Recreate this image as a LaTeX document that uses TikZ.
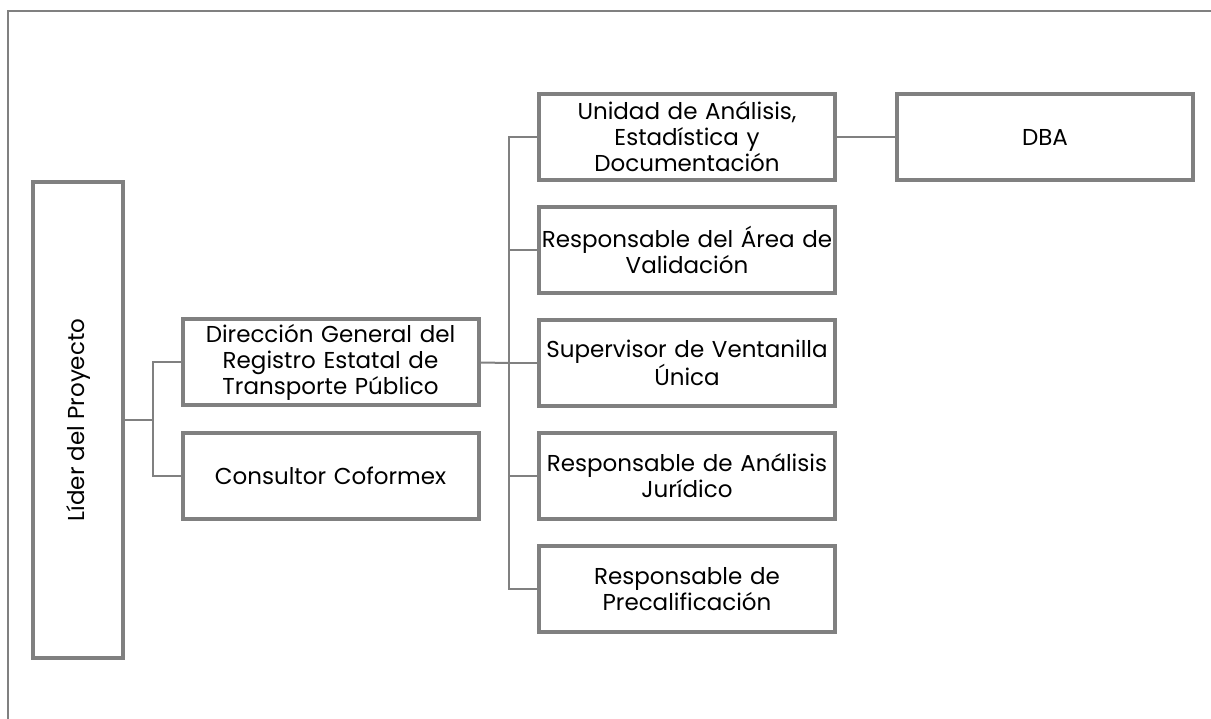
\documentclass[tikz,border=0pt]{standalone}
\usepackage{fontspec}
\setmainfont{Poppins}
\usetikzlibrary{positioning}
\definecolor{linegray}{RGB}{128,128,128}
\tikzset{
  unitbox/.style={draw=linegray, line width=4pt, inner sep=0pt, fill=white,
    minimum width=296pt, minimum height=86pt, text width=296pt, align=center,
    font=\fontsize{23}{26}\selectfont},
  conn/.style={draw=linegray, line width=2pt},
}
\begin{document}
\begin{tikzpicture}[x=1pt, y=-1pt]
            \useasboundingbox (0,0) rectangle (1211,719);
            \draw[linegray, line width=2pt] (8,719) -- (8,11) -- (1211,11);

            % left side
            \node[unitbox, minimum width=90pt, minimum height=476pt, text width=] (lider) at (78,420) {};
            \node[rotate=90, font=\fontsize{23}{26}\selectfont] (lidertxt) at (lider.center) {Líder del Proyecto};
            \node[unitbox] (dir) at (330.5,362.5) {Dirección General del\\ Registro Estatal de\\ Transporte Público};
            \node[unitbox, below=23pt of dir] (cons) {Consultor Coformex};

            % right column
            \node[unitbox] (u1) at (687,137) {Unidad de Análisis,\\ Estadística y\\ Documentación};
            \node[unitbox, below=23pt of u1] (u2) {Responsable del Área de\\ Validación};
            \node[unitbox, below=23pt of u2] (u3) {Supervisor de Ventanilla\\ Única};
            \node[unitbox, below=23pt of u3] (u4) {Responsable de Análisis\\ Jurídico};
            \node[unitbox, below=23pt of u4] (u5) {Responsable de\\ Precalificación};
            \node[unitbox, right=58pt of u1] (dba) {DBA};

            % connectors
            \coordinate (jl) at (153,420);
            \coordinate (jr) at (509,363);
            \draw[conn] (lider.east) -- (jl);
            \draw[conn] (dir.west) -| (jl) |- (cons.west);
            \draw[conn] (dir.east) -- (jr);
            \draw[conn] (u1.west) -| (jr |- u5.west) -- (u5.west);
            \foreach \u in {u2,u3,u4}
              \draw[conn] (\u.west) -- (\u.west -| jr);
            \draw[conn] (u1.east) -- (dba.west);

        \end{tikzpicture}
\end{document}
